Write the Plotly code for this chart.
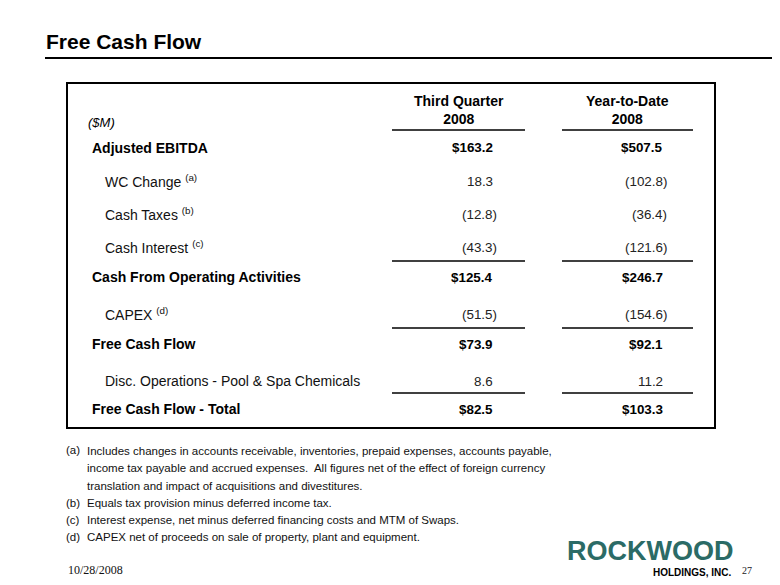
import plotly.graph_objects as go

# ---------------- data ----------------
title_text = "Free Cash Flow"
unit_label = "($M)"
col_headers = ["Third Quarter<br>2008", "Year-to-Date<br>2008"]
row_labels = ["Adjusted EBITDA", "WC Change", "Cash Taxes", "Cash Interest",
              "Cash From Operating Activities", "CAPEX", "Free Cash Flow",
              "Disc. Operations - Pool & Spa Chemicals", "Free Cash Flow - Total"]
row_notes = ["", "a", "b", "c", "", "d", "", "", ""]
row_bold = [True, False, False, False, True, False, True, False, True]
q3_values = [163.2, 18.3, -12.8, -43.3, 125.4, -51.5, 73.9, 8.6, 82.5]
ytd_values = [507.5, -102.8, -36.4, -121.6, 246.7, -154.6, 92.1, 11.2, 103.3]
rule_before_rows = [4, 6, 8]
footnote_keys = ["(a)", "", "", "(b)", "(c)", "(d)"]
footnote_lines = [
    "Includes changes in accounts receivable, inventories, prepaid expenses, accounts payable,",
    "income tax payable and accrued expenses.  All figures net of the effect of foreign currency",
    "translation and impact of acquisitions and divestitures.",
    "Equals tax provision minus deferred income tax.",
    "Interest expense, net minus deferred financing costs and MTM of Swaps.",
    "CAPEX net of proceeds on sale of property, plant and equipment.",
]
date_text = "10/28/2008"
page_num = "27"
company = "ROCKWOOD"
company_sub = "HOLDINGS, INC."

# ---------------- layout helpers ----------------
# the page body has an 8px margin, so the figure is drawn 8px in from the top-left
OFF = 8
W, H = 780 - OFF, 585 - OFF
SANS = "Liberation Sans, Arial, sans-serif"
SERIF = "Liberation Serif, Times New Roman, serif"
TEAL = "#2B6B66"


def px(x):
    return (x - OFF) / W


def py(y):
    return 1 - (y - OFF) / H


row_y = [148, 181, 214, 247, 277, 314, 344, 381, 409]
col_right = [494, 664]
col_center = [458.5, 627.5]
col_span = [(392, 525), (562, 693)]

annotations = []
shapes = []


def add_text(x, y, text, size, color="#000", xanchor="left", family=SANS, bold=False, italic=False):
    t = text
    if bold:
        t = "<b>" + t + "</b>"
    if italic:
        t = "<i>" + t + "</i>"
    annotations.append(dict(x=px(x), y=py(y), xref="paper", yref="paper", text=t,
                            showarrow=False, xanchor=xanchor, yanchor="middle",
                            font=dict(size=size, color=color, family=family),
                            borderpad=0))


def line(x0, y0, x1, y1, w=1.5, color="#000"):
    shapes.append(dict(type="line", xref="paper", yref="paper", x0=px(x0), y0=py(y0),
                       x1=px(x1), y1=py(y1), line=dict(color=color, width=w)))


# title and rule
add_text(45, 42, title_text, 21, bold=True)
line(45, 58, 780, 58, w=2.2)

# table box
shapes.append(dict(type="rect", xref="paper", yref="paper", x0=px(67), y0=py(83),
                   x1=px(715), y1=py(428), line=dict(color="#000", width=2)))

# headers
for c in range(2):
    add_text(col_center[c], 110, col_headers[c], 14, xanchor="center", bold=True)
    line(col_span[c][0], 130, col_span[c][1], 130)
add_text(87, 123, unit_label, 13, italic=True)


def fmt(v, bold):
    if v < 0:
        return "(%.1f)" % abs(v)
    return ("$%.1f" % v) if bold else "%.1f" % v


for i, lab in enumerate(row_labels):
    y = row_y[i]
    if row_bold[i]:
        add_text(91, y, lab, 14, bold=True)
    else:
        t = lab
        if row_notes[i]:
            t += " <sup>(" + row_notes[i] + ")</sup>"
        add_text(104, y, t, 14, color="#111")
    for c, vals in enumerate([q3_values, ytd_values]):
        v = vals[i]
        xr = col_right[c] + (4 if v < 0 else 0)
        add_text(xr, y, fmt(v, row_bold[i]), 13.4, color="#000" if row_bold[i] else "#222",
                 xanchor="right", bold=row_bold[i])
    if i in rule_before_rows:
        for c in range(2):
            line(col_span[c][0], y - 16, col_span[c][1], y - 16)

# footnotes
fn_y = [451, 468, 486, 503, 520, 537]
for k, t, y in zip(footnote_keys, footnote_lines, fn_y):
    if k:
        add_text(65, y - (1 if k == "(a)" else 0), k, 11.5, color="#111")
    add_text(86, y, t, 11.5, color="#111")

# footer
add_text(67, 570, date_text, 12, family=SERIF, color="#111")
add_text(741, 570, page_num, 10, family=SERIF, color="#222")

# logo text
add_text(566, 551, company, 27, color=TEAL, bold=True)
add_text(733, 572, company_sub, 10, xanchor="right", bold=True)

fig = go.Figure()
fig.update_layout(width=W, height=H, margin=dict(l=0, r=0, t=0, b=0),
                  paper_bgcolor="white", plot_bgcolor="white",
                  xaxis=dict(visible=False), yaxis=dict(visible=False),
                  annotations=annotations, shapes=shapes, showlegend=False)
fig.write_html("out.html")
